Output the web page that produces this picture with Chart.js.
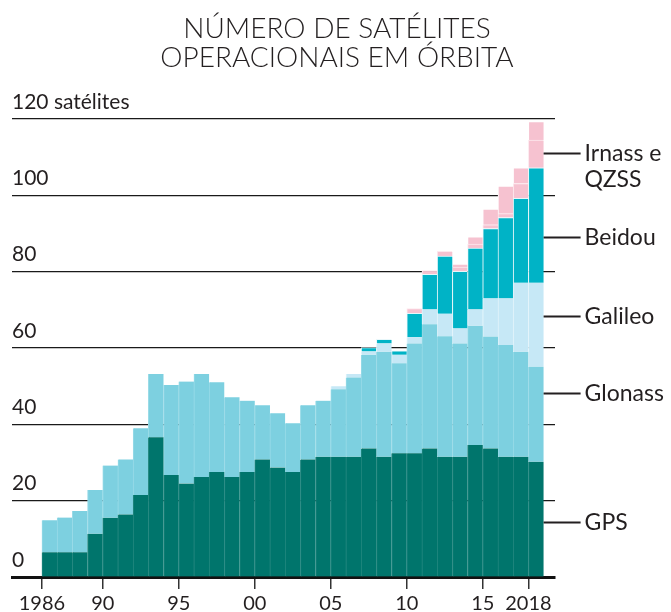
<!DOCTYPE html>
<html><head><meta charset="utf-8">
<script src="https://cdn.jsdelivr.net/npm/chart.js@4.4.1/dist/chart.umd.min.js"></script>
<style>html,body{margin:0;padding:0;background:#fff}#wrap{width:671px;height:612px;position:relative}</style>
</head><body><div id="wrap"><canvas id="c" width="671" height="612"></canvas></div>
<script>
const years = [1986,1987,1988,1989,1990,1991,1992,1993,1994,1995,1996,1997,1998,1999,2000,2001,2002,2003,2004,2005,2006,2007,2008,2009,2010,2011,2012,2013,2014,2015,2016,2017,2018];
const gps = [6.5,6.5,6.5,11.3,15.5,16.4,21.5,36.6,26.7,24.5,26.2,27.5,26.2,27.5,30.8,28.7,27.5,30.8,31.5,31.5,31.5,33.7,31.5,32.4,32.4,33.7,31.5,31.5,34.6,33.7,31.5,31.5,30.2];
const glonass = [8.4,9.1,10.8,11.5,13.7,14.4,17.5,16.6,23.6,26.7,27.0,23.5,20.9,18.7,14.2,14.2,12.8,14.2,14.7,17.7,20.8,24.5,27.5,23.6,28.8,32.5,31.6,29.7,31.2,29.3,29.3,27.5,24.9];
const galileo = [0,0,0,0,0,0,0,0,0,0,0,0,0,0,0,0,0,0,0,0.8,0.9,0.9,2.2,2.2,1.6,3.9,5.9,3.9,4.3,10.0,12.2,18.1,22.0];
const beidou = [0,0,0,0,0,0,0,0,0,0,0,0,0,0,0,0,0,0,0,0,0,1.0,1.1,1.05,6.3,9.2,15.1,15.0,16.1,18.3,21.2,22.1,30.1];
const irnassQzssA = [0,0,0,0,0,0,0,0,0,0,0,0,0,0,0,0,0,0,0,0,0,0,0,0,1.2,1.0,1.2,1.1,1.0,1.0,1.0,3.9,7.3];
const irnassQzssB = [0,0,0,0,0,0,0,0,0,0,0,0,0,0,0,0,0,0,0,0,0,0,0,0,0,0,0,0.8,1.9,4.1,7.2,4.1,4.8];
const xTickValues = [1986,1990,1995,2000,2005,2010,2015,2018];
const xTickLabels = ['1986','90','95','00','05','10','15','2018'];
const yTickValues = [0,20,40,60,80,100,120];
const yTopLabel = '120 satélites';
const titleLines = ['NÚMERO DE SATÉLITES','OPERACIONAIS EM ÓRBITA'];
const seriesLabels = [['GPS'],['Glonass'],['Galileo'],['Beidou'],['Irnass e','QZSS']];

const FONT = 'Lato';
function pts(arr){ return arr.map((v,i)=>({x: years[i]+0.5, y: v})); }
function ds(label, arr, bg, bc, top){
  return {label, data: pts(arr), backgroundColor: bg, borderColor: bc,
    borderWidth: {left:1, top: top, right:0, bottom:0}, borderSkipped: false,
    barPercentage: 1, categoryPercentage: 1};
}

const labelPlugin = {
  id: 'labels',
  afterDraw(chart){
    const ctx = chart.ctx;
    const xs = chart.scales.x, ys = chart.scales.y;
    ctx.save();
    ctx.fillStyle = '#231f20';
    ctx.font = '300 28px ' + FONT;
    ctx.textAlign = 'center';
    ctx.textBaseline = 'middle';
    ctx.fillText(titleLines[0], 337, 29);
    ctx.fillText(titleLines[1], 337, 58);
    const labelYs = chart.options.plugins.labels.yValues;
    const x0 = xs.getPixelForValue(years[years.length-1] + 1);
    ctx.font = '23px ' + FONT;
    ctx.textAlign = 'left';
    ctx.strokeStyle = '#231f20';
    ctx.lineWidth = 2;
    seriesLabels.forEach((lines, i) => {
      const y = Math.round(ys.getPixelForValue(labelYs[i])) + 0.5;
      ctx.beginPath(); ctx.moveTo(x0, y); ctx.lineTo(x0 + 37, y); ctx.stroke();
      lines.forEach((t, j) => ctx.fillText(t, x0 + 41, y + j * 26));
    });
    ctx.restore();
  }
};

new Chart(document.getElementById('c'), {
  type: 'bar',
  data: { datasets: [
    ds('GPS', gps, '#00756c', '#21877f', 0),
    ds('Glonass', glonass, '#7dd0e0', '#97dae7', 0),
    ds('Galileo', galileo, '#c6e8f6', '#e2f4fb', 0),
    ds('Beidou', beidou, '#00b3c6', '#e8f7fa', 1),
    ds('Irnass', irnassQzssA, '#f6c2d0', '#fde9ee', 1),
    ds('QZSS', irnassQzssB, '#f6c2d0', '#ffffff', 1)
  ]},
  options: {
    responsive: false, animation: false, devicePixelRatio: 1,
    layout: { padding: { left: 12, right: 116, top: 119, bottom: 0 } },
    plugins: { legend: {display: false}, tooltip: {enabled: false}, title: {display: false},
      labels: { yValues: [14.5, 48.1, 68.4, 89.2, 111.2] } },
    scales: {
      x: {
        type: 'linear', stacked: true, min: 1984.03, max: 2019.75, z: 1, offset: false,
        afterBuildTicks: s => { s.ticks = xTickValues.map(v => ({value: v})); },
        afterFit: s => { s.height = 35; },
        border: {display: true, color: '#111', width: 3},
        grid: {offset: false, drawOnChartArea: false, drawTicks: true, tickLength: 12, color: '#333', lineWidth: 1.5},
        ticks: {autoSkip: false, maxRotation: 0, padding: 3, color: '#231f20', font: {family: FONT, size: 20},
          callback: v => xTickLabels[xTickValues.indexOf(v)]}
      },
      y: {
        stacked: true, min: 0, max: 120, z: 1,
        afterBuildTicks: s => { s.ticks = yTickValues.map(v => ({value: v})); },
        afterFit: s => { s.width = 0; },
        border: {display: false},
        grid: {color: '#1a1a1a', lineWidth: 1.2, drawTicks: false},
        ticks: {mirror: true, padding: 0, labelOffset: -17, color: '#231f20', font: {family: FONT, size: 21},
          callback: v => v === 120 ? yTopLabel : String(v)}
      }
    }
  },
  plugins: [labelPlugin]
});
</script></body></html>
